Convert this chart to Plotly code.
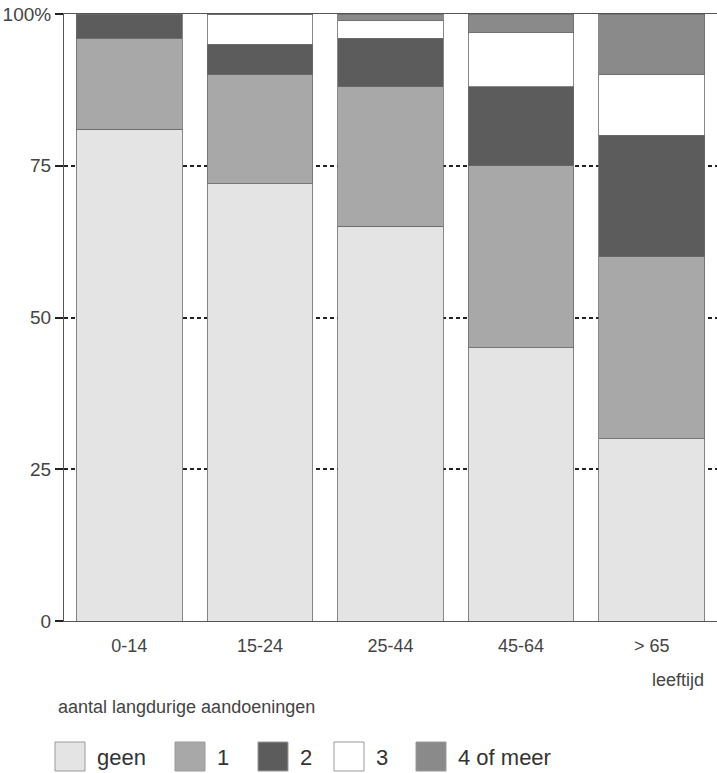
import plotly.graph_objects as go

categories = ["0-14", "15-24", "25-44", "45-64", "> 65"]
series_names = ["geen", "1", "2", "3", "4 of meer"]
geen = [81, 72, 65, 45, 30]
een = [15, 18, 23, 30, 30]
twee = [4, 5, 8, 13, 20]
drie = [0, 5, 3, 9, 10]
vier_of_meer = [0, 0, 1, 3, 10]
colors = ["#e4e4e4", "#a8a8a8", "#5c5c5c", "#ffffff", "#8a8a8a"]
y_tickvals = [0, 25, 50, 75, 100]
y_ticktext = ["0", "25", "50", "75", "100%"]

# legend layout (pixel positions of legend boxes, left edges)
legend_box_left_px = [55, 175, 258, 334, 416]

FONT = "Liberation Sans, Arial, sans-serif"
W, H = 717, 772
ML, MR, MT, MB = 64, 0, 14, 151
PW = W - ML - MR
PH = H - MT - MB


def px_to_paper_x(px):
    return (px - ML) / PW


def px_to_paper_y(py):
    return (H - MB - py) / PH


fig = go.Figure()
for name, vals, col in zip(series_names, [geen, een, twee, drie, vier_of_meer], colors):
    fig.add_trace(go.Bar(
        x=categories, y=vals, name=name, showlegend=False,
        marker=dict(color=col, line=dict(color="#6a6a6a", width=0.8)),
    ))

shapes = []
annotations = [
    dict(text="leeftijd", xref="paper", yref="paper", x=px_to_paper_x(706),
         y=px_to_paper_y(680), xanchor="right", yanchor="middle", showarrow=False,
         font=dict(size=18, color="#444444")),
    dict(text="aantal langdurige aandoeningen", xref="paper", yref="paper",
         x=px_to_paper_x(56), y=px_to_paper_y(707), xanchor="left", yanchor="middle",
         showarrow=False, font=dict(size=18, color="#444444")),
]
for name, col, lx in zip(series_names, colors, legend_box_left_px):
    shapes.append(dict(
        type="rect", xref="paper", yref="paper",
        x0=px_to_paper_x(lx), x1=px_to_paper_x(lx + 30),
        y0=px_to_paper_y(742), y1=px_to_paper_y(771),
        fillcolor=col, line=dict(color="#9a9a9a", width=1),
    ))
    annotations.append(dict(
        text=name, xref="paper", yref="paper",
        x=px_to_paper_x(lx + 40), y=px_to_paper_y(757),
        xanchor="left", yanchor="middle", showarrow=False,
        font=dict(size=22, color="#333333"),
    ))

fig.update_layout(
    barmode="stack",
    bargap=0.19,
    width=W, height=H,
    margin=dict(l=ML, r=MR, t=MT, b=MB),
    plot_bgcolor="white", paper_bgcolor="white",
    font=dict(family=FONT, size=18, color="#444444"),
    showlegend=False,
    xaxis=dict(
        showline=True, mirror=True, linecolor="#555555", linewidth=1,
        ticks="", tickfont=dict(size=18, color="#444444"), showgrid=False,
        ticklabelstandoff=8,
    ),
    yaxis=dict(
        range=[0, 100], tickvals=y_tickvals, ticktext=y_ticktext,
        showline=True, linecolor="#555555", linewidth=1,
        showgrid=True, gridcolor="#222222", griddash="4px,3px", gridwidth=1.6,
        ticks="outside", ticklen=8, tickcolor="#222222", tickwidth=1.6,
        zeroline=False, tickfont=dict(size=19, color="#444444"),
    ),
    shapes=shapes,
    annotations=annotations,
)

fig.write_html(
    "out.html",
    config={"displayModeBar": False},
    post_script="document.body.style.margin='0';document.body.style.overflow='hidden';",
)
